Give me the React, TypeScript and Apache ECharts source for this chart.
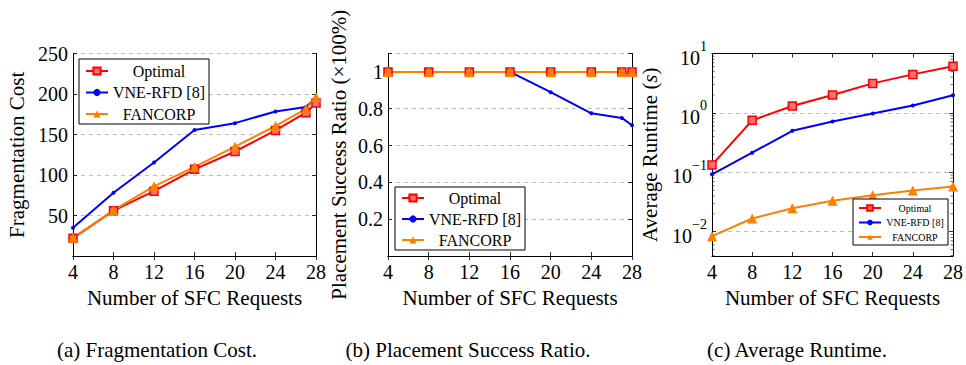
import React, { useEffect, useRef } from "react";
import * as echarts from "echarts";

// ---- data ----
const xsAB = [4, 8, 12, 16, 20, 24, 27, 28];
const xsC = [4, 8, 12, 16, 20, 24, 28];
const xTicks = [4, 8, 12, 16, 20, 24, 28];

const costOptimal = [22, 56, 80, 107, 129, 155, 177, 189];
const costVne = [35, 78, 115.5, 155.5, 164, 178.5, 184, 195];
const costFancorp = [22.5, 56.5, 86, 110, 135, 160.5, 181.5, 196];

const ratioOptimal = [1, 1, 1, 1, 1, 1, 1, 1];
const ratioVne = [1, 1, 1, 1, 0.89, 0.775, 0.75, 0.71];
const ratioFancorp = [1, 1, 1, 1, 1, 1, 1, 1];

const rtOptimal = [0.133, 0.75, 1.31, 2.0, 3.14, 4.45, 6.1];
const rtVne = [0.0925, 0.214, 0.5, 0.716, 0.975, 1.33, 1.98];
const rtFancorp = [0.0084, 0.0167, 0.0249, 0.0331, 0.0412, 0.0493, 0.0575];

const seriesNames = ["Optimal", "VNE-RFD [8]", "FANCORP"];
const captions = ["(a) Fragmentation Cost.", "(b) Placement Success Ratio.", "(c) Average Runtime."];
const xTitle = "Number of SFC Requests";

const FONT = "Liberation Serif";
const RED = "#ff0000";
const BLUE = "#0000ff";
const ORANGE = "#ff8000";

const zip = (xs: number[], ys: number[]) => xs.map((x, i) => [x, ys[i]]);

export default function App() {
  const ref = useRef<HTMLDivElement>(null);
  useEffect(() => {
    document.body.style.margin = "0";
    const chart = echarts.init(ref.current!, null, { renderer: "svg" });

    const grids = [
      { left: 73, right: 650, top: 53.5, bottom: 109 },
      { left: 388, right: 334, top: 53.5, bottom: 109 },
      { left: 712, right: 10, top: 53.5, bottom: 109 },
    ];

    const axisLine = { show: true, lineStyle: { color: "#000", width: 1 } };
    const tick = { show: true, inside: true, length: 4, lineStyle: { color: "#000", width: 0.8 } };
    const gridLine = { show: true, lineStyle: { color: "#bdbdbd", type: [4, 4], width: 1 } };
    const labelStyle = { fontFamily: FONT, fontSize: 20, color: "#000" };

    const xAxes: any[] = [];
    const yAxes: any[] = [];
    for (let g = 0; g < 3; g++) {
      xAxes.push({
        type: "value", gridIndex: g, min: 4, max: 28, interval: 4, position: "bottom",
        axisLine, axisTick: tick, splitLine: { show: false },
        axisLabel: { ...labelStyle, margin: 6 },
        name: xTitle, nameLocation: "middle", nameGap: 31,
        nameTextStyle: { fontFamily: FONT, fontSize: 21, color: "#000" },
      });
      xAxes.push({
        type: "value", gridIndex: g, min: 4, max: 28, interval: 4, position: "top",
        axisLine, axisTick: tick, splitLine: { show: false }, axisLabel: { show: false },
      });
    }
    // (a)
    yAxes.push({
      type: "value", gridIndex: 0, min: 0, max: 250, interval: 50, position: "left",
      axisLine, axisTick: tick, splitLine: gridLine,
      axisLabel: { ...labelStyle, margin: 5, formatter: (v: number) => (v === 0 ? "" : String(v)) },
      name: "Fragmentation Cost", nameLocation: "middle", nameGap: 46,
      nameTextStyle: { fontFamily: FONT, fontSize: 21, color: "#000" },
    });
    yAxes.push({
      type: "value", gridIndex: 0, min: 0, max: 250, interval: 50, position: "right",
      axisLine, axisTick: tick, splitLine: { show: false }, axisLabel: { show: false },
    });
    // (b)
    yAxes.push({
      type: "value", gridIndex: 1, min: 0, max: 1.1, interval: 0.2, position: "left",
      axisLine, axisTick: tick, splitLine: gridLine,
      axisLabel: { ...labelStyle, margin: 5, formatter: (v: number) => (v === 0 || v > 1.05 ? "" : String(Math.round(v * 10) / 10)) },
      name: "Placement Success Ratio (×100%)", nameLocation: "middle", nameGap: 39,
      nameTextStyle: { fontFamily: FONT, fontSize: 21, color: "#000" },
    });
    yAxes.push({
      type: "value", gridIndex: 1, min: 0, max: 1.1, interval: 0.2, position: "right",
      axisLine, axisTick: tick, splitLine: { show: false }, axisLabel: { show: false },
    });
    // (c)
    const logLabel = (v: number) => {
      const e = Math.log10(v);
      const r = Math.round(e);
      if (Math.abs(e - r) > 1e-6) return "";
      return `{b|10}{s|${r < 0 ? "−" + -r : r}}`;
    };
    yAxes.push({
      type: "log", logBase: 10, gridIndex: 2, min: 0.0039, max: 10, position: "left",
      axisLine, axisTick: tick, splitLine: gridLine,
      axisLabel: {
        margin: 5, formatter: logLabel,
        rich: {
          b: { fontFamily: FONT, fontSize: 20, color: "#000", lineHeight: 28, verticalAlign: "bottom" },
          s: { fontFamily: FONT, fontSize: 14, color: "#000", lineHeight: 14, verticalAlign: "top" },
        },
      },
      name: "Average Runtime ({i|s})", nameLocation: "middle", nameGap: 52,
      nameTextStyle: {
        fontFamily: FONT, fontSize: 21, color: "#000",
        rich: { i: { fontFamily: FONT, fontSize: 21, fontStyle: "italic", color: "#000" } },
      },
    });
    yAxes.push({
      type: "log", logBase: 10, gridIndex: 2, min: 0.0039, max: 10, position: "right",
      axisLine, axisTick: tick, splitLine: { show: false }, axisLabel: { show: false },
    });

    const mk = (name: string, xi: number, yi: number, data: number[][]) => {
      const base: any = {
        name, type: "line", xAxisIndex: xi, yAxisIndex: yi, data,
        lineStyle: { width: 2 }, z: 3,
      };
      if (name === "Optimal") {
        base.symbol = "rect"; base.symbolSize = 8;
        base.itemStyle = { color: "#ff7070", borderColor: RED, borderWidth: 1.5 };
        base.lineStyle.color = RED;
      } else if (name === "VNE-RFD [8]") {
        base.symbol = "circle"; base.symbolSize = 4;
        base.itemStyle = { color: BLUE };
        base.lineStyle.color = BLUE;
      } else {
        base.symbol = "triangle"; base.symbolSize = 10;
        base.itemStyle = { color: ORANGE };
        base.lineStyle.color = ORANGE;
      }
      return base;
    };

    const minorVals: number[][] = [];
    for (const e of [-3, -2, -1, 0]) {
      for (let m = 2; m <= 9; m++) {
        const v = m * Math.pow(10, e);
        if (v > 0.0039 && v < 10) minorVals.push([4, v]);
      }
    }

    const series: any[] = [
      mk("Optimal", 0, 0, zip(xsAB, costOptimal)),
      mk("VNE-RFD [8]", 0, 0, zip(xsAB, costVne)),
      mk("FANCORP", 0, 0, zip(xsAB, costFancorp)),
      mk("Optimal", 2, 2, zip(xsAB, ratioOptimal)),
      mk("VNE-RFD [8]", 2, 2, zip(xsAB, ratioVne)),
      mk("FANCORP", 2, 2, zip(xsAB, ratioFancorp)),
      mk("Optimal", 4, 4, zip(xsC, rtOptimal)),
      mk("VNE-RFD [8]", 4, 4, zip(xsC, rtVne)),
      mk("FANCORP", 4, 4, zip(xsC, rtFancorp)),
      {
        type: "custom", name: "minor", xAxisIndex: 4, yAxisIndex: 4, silent: true, z: 1,
        data: minorVals,
        renderItem: (params: any, api: any) => {
          const p = api.coord([4, api.value(1)]);
          const q = api.coord([28, api.value(1)]);
          return {
            type: "group",
            children: [
              { type: "line", shape: { x1: p[0], y1: p[1], x2: p[0] + 2.5, y2: p[1] }, style: { stroke: "#000", lineWidth: 0.6 } },
              { type: "line", shape: { x1: q[0] - 2.5, y1: q[1], x2: q[0], y2: q[1] }, style: { stroke: "#000", lineWidth: 0.6 } },
            ],
          };
        },
      },
    ];

    const mkLegend = (left: number, top: number, fontSize: number, colW: number, lh: number, gap: number, pad: number[], iw: number, ih: number) => ({
      orient: "vertical", left, top, data: seriesNames,
      backgroundColor: "#fff", borderColor: "#000", borderWidth: 1, borderRadius: 0,
      padding: pad, itemGap: gap, itemWidth: iw, itemHeight: ih, itemTextGap: 4,
      formatter: (n: string) => `{t|${n}}`,
      textStyle: {
        fontFamily: FONT, fontSize, color: "#000",
        rich: { t: { fontFamily: FONT, fontSize, color: "#000", width: colW, align: "center", lineHeight: lh } },
      },
      selectedMode: false,
    });

    const legends = [
      mkLegend(79, 59, 16, 92, 16, 5.5, [4, 4, 2, 6], 22, 9),
      mkLegend(395, 187, 16, 92, 16, 5, [3, 4, 2, 6], 22, 9),
      mkLegend(853, 199, 10, 58, 11, 4.5, [4, 4, 3, 5], 22, 7),
    ];

    const captionX = [157, 468, 797];
    const graphic = captions.map((c, i) => ({
      type: "text", x: captionX[i], y: 350,
      style: { text: c, fontFamily: FONT, fontSize: 21, fill: "#000", align: "center", verticalAlign: "middle" },
    }));

    chart.setOption({
      animation: false,
      grid: grids,
      xAxis: xAxes,
      yAxis: yAxes,
      legend: legends,
      series,
      graphic,
    });
    return () => chart.dispose();
  }, []);
  return <div ref={ref} style={{ width: 966, height: 365 }} />;
}
